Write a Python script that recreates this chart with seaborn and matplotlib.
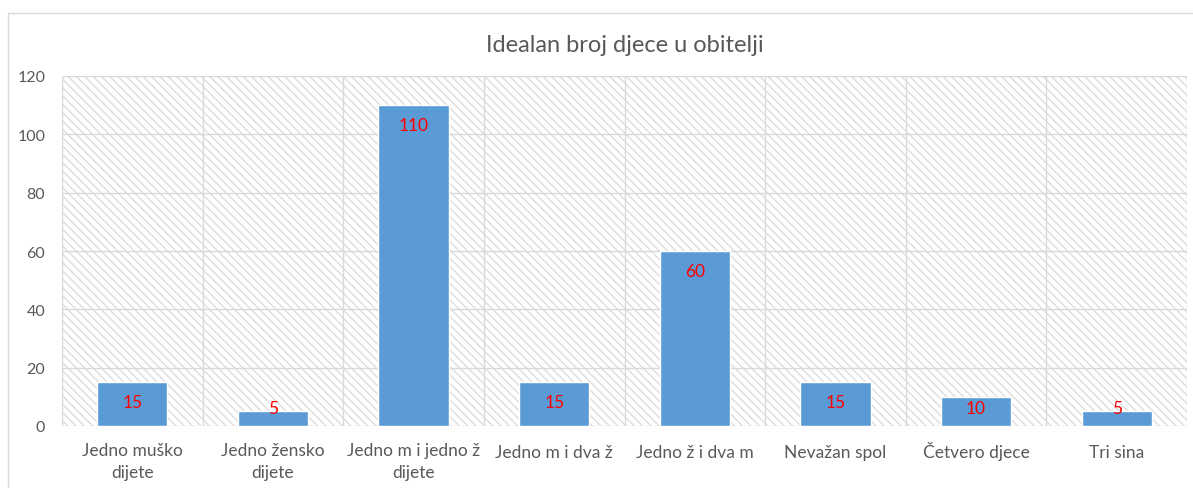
import matplotlib
matplotlib.use("Agg")
import matplotlib.pyplot as plt
import seaborn as sns
import pandas as pd
from matplotlib.lines import Line2D

categories = ["Jedno muško\ndijete", "Jedno žensko\ndijete", "Jedno m i jedno ž\ndijete",
              "Jedno m i dva ž", "Jedno ž i dva m", "Nevažan spol", "Četvero djece", "Tri sina"]
values = [15, 5, 110, 15, 60, 15, 10, 5]
title = "Idealan broj djece u obitelji"
yticks = [0, 20, 40, 60, 80, 100, 120]

sns.set_theme(style="white")
plt.rcParams['font.family'] = ['Lato', 'DejaVu Sans']
plt.rcParams['hatch.color'] = '#DADADA'
plt.rcParams['hatch.linewidth'] = 0.9

df = pd.DataFrame({"cat": categories, "val": values})

fig = plt.figure(figsize=(11.93, 4.89), dpi=100)
ax = fig.add_axes([62/1193, 1-427/489, (1187-62)/1193, 350/489])

ax.patch.set_facecolor('white')
ax.patch.set_hatch('\\\\\\\\')
ax.patch.set_edgecolor('#DADADA')
ax.patch.set_linewidth(0)

sns.barplot(data=df, x="cat", y="val", color="#5B9BD5", saturation=1, width=0.5, ax=ax, zorder=3)

ax.set_ylim(0, 120)
ax.set_xlim(-0.5, len(categories) - 0.5)
ax.set_yticks(yticks)
ax.set_yticklabels([str(t) for t in yticks])
for y in yticks:
    ax.axhline(y, color='#D9D9D9', lw=1.0, zorder=1)
for i in range(len(categories) + 1):
    ax.axvline(i - 0.5, color='#D9D9D9', lw=1.0, zorder=1)

for s in ax.spines.values():
    s.set_visible(False)

ax.set_xlabel("")
ax.set_ylabel("")
ax.tick_params(axis='both', length=0, colors='#595959')
ax.tick_params(axis='x', pad=22, labelsize=12.5)
ax.tick_params(axis='y', pad=12, labelsize=11.5)
for tick, cat in zip(ax.xaxis.get_major_ticks(), categories):
    tick.label1.set_linespacing(1.45)
    tick.label1.set_verticalalignment('baseline')
    nlines = cat.count("\n")
    tick.set_pad(22 + 14.5 * nlines)

for i, v in enumerate(values):
    yc = max(v - 6.9, 6.2)
    ax.text(i, yc, str(v), color='red', ha='center', va='center', fontsize=12.5, zorder=5)

fig.text(0.5 * (62 + 1187) / 1193, 1 - 45/489, title, ha='center', va='center',
         fontsize=17, color='#595959')

# chart area border (left and top)
fig.add_artist(Line2D([8/1193, 8/1193], [0, 1-14/489], transform=fig.transFigure, color='#D9D9D9', lw=1))
fig.add_artist(Line2D([8/1193, 1], [1-14/489, 1-14/489], transform=fig.transFigure, color='#D9D9D9', lw=1))

fig.savefig("out.png", dpi=100, facecolor='white')
